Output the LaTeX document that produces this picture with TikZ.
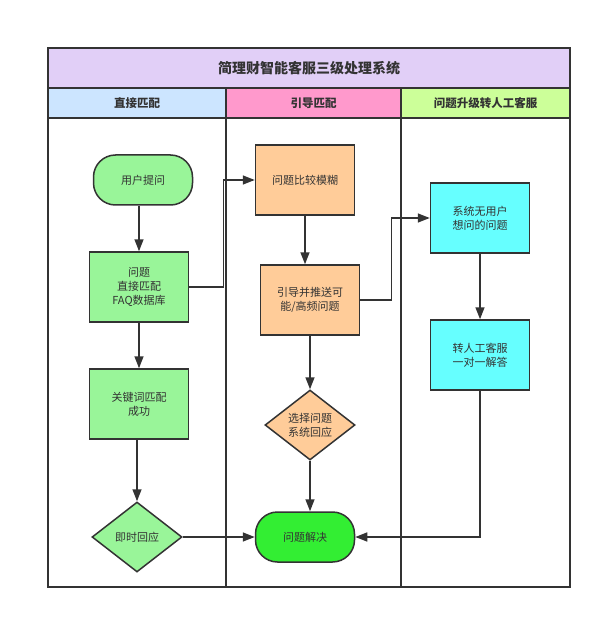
\documentclass[tikz,border=0pt]{standalone}
\usepackage{fontspec}
\setmainfont{Noto Sans CJK SC}
\usetikzlibrary{shapes.geometric, arrows.meta}

\definecolor{titlebg}{HTML}{E1CFF7}
\definecolor{lanea}{HTML}{CCE5FF}
\definecolor{laneb}{HTML}{FF99CC}
\definecolor{lanec}{HTML}{CCFF99}
\definecolor{greenbox}{HTML}{99F599}
\definecolor{orangebox}{HTML}{FFCC99}
\definecolor{cyanbox}{HTML}{66FFFF}
\definecolor{donebox}{HTML}{33EE33}
\definecolor{linegray}{HTML}{333333}

\begin{document}
\begin{tikzpicture}[x=1pt, y=-1pt,
    every node/.style={font=\fontsize{11}{14}\selectfont, text=black!80},
    box/.style={draw=linegray, line width=1.5pt, rectangle, minimum width=99pt, minimum height=70pt, align=center},
    pill/.style={draw=linegray, line width=1.5pt, rectangle, rounded corners=22pt, minimum width=99pt, minimum height=50pt, align=center},
    choice/.style={draw=linegray, line width=1.5pt, diamond, aspect=1.3, minimum width=90pt, minimum height=70pt, inner sep=0pt, align=center},
    headbox/.style={draw=linegray, line width=1.5pt, minimum height=30pt, inner sep=0pt, font=\fontsize{11.5}{14}\selectfont\bfseries},
    arr/.style={-{Triangle[length=12pt, width=9pt]}, draw=linegray, line width=1.5pt}]
    \useasboundingbox (0,0) rectangle (602,620);

    % Lanes
    \node[headbox, fill=titlebg, minimum width=522pt, minimum height=40pt, font=\fontsize{14}{16}\selectfont\bfseries] (title) at (309,68) {简理财智能客服三级处理系统};
    \node[headbox, fill=lanea, minimum width=178pt] (heada) at (137,103) {直接匹配};
    \node[headbox, fill=laneb, minimum width=175pt] (headb) at (313.5,103) {引导匹配};
    \node[headbox, fill=lanec, minimum width=169pt] (headc) at (485.5,103) {问题升级转人工客服};
    \draw[linegray, line width=1.5pt] (48,118) rectangle (226,587);
    \draw[linegray, line width=1.5pt] (226,118) rectangle (401,587);
    \draw[linegray, line width=1.5pt] (401,118) rectangle (570,587);
    \draw[linegray, line width=2pt] (48,48) rectangle (570,587);

    % Nodes
    \node[pill, fill=greenbox] (ask) at (143,180) {用户提问};
    \node[box, fill=greenbox] (faq) at (139,287) {问题\\直接匹配\\FAQ数据库};
    \node[box, fill=greenbox] (keyword) at (139,404) {关键词匹配\\成功};
    \node[choice, fill=greenbox] (instant) at (137,537) {即时回应};
    \node[box, fill=orangebox] (vague) at (305,180) {问题比较模糊};
    \node[box, fill=orangebox] (guide) at (310,300) {引导并推送可\\能/高频问题};
    \node[choice, fill=orangebox] (pick) at (310,425) {选择问题\\系统回应};
    \node[pill, fill=donebox] (solved) at (305,537) {问题解决};
    \node[box, fill=cyanbox] (nouser) at (480,218) {系统无用户\\想问的问题};
    \node[box, fill=cyanbox] (manual) at (480,355) {转人工客服\\一对一解答};

    % Arrows
    \draw[arr] (ask.south -| faq.north) -- (faq.north);
    \draw[arr] (faq) -- (keyword);
    \draw[arr] (keyword.south -| instant.north) -- (instant.north);
    \draw[arr] (instant) -- (solved);
    \draw[arr] (faq.east) -- ++(34,0) |- (vague.west);
    \draw[arr] (vague) -- (vague |- guide.north);
    \draw[arr] (guide) -- (pick);
    \draw[arr] (pick) -- (pick |- solved.north);
    \draw[arr] (guide.east) -- ++(31,0) |- (nouser.west);
    \draw[arr] (nouser) -- (manual);
    \draw[arr] (manual.south) |- (solved.east);
\end{tikzpicture}
\end{document}
